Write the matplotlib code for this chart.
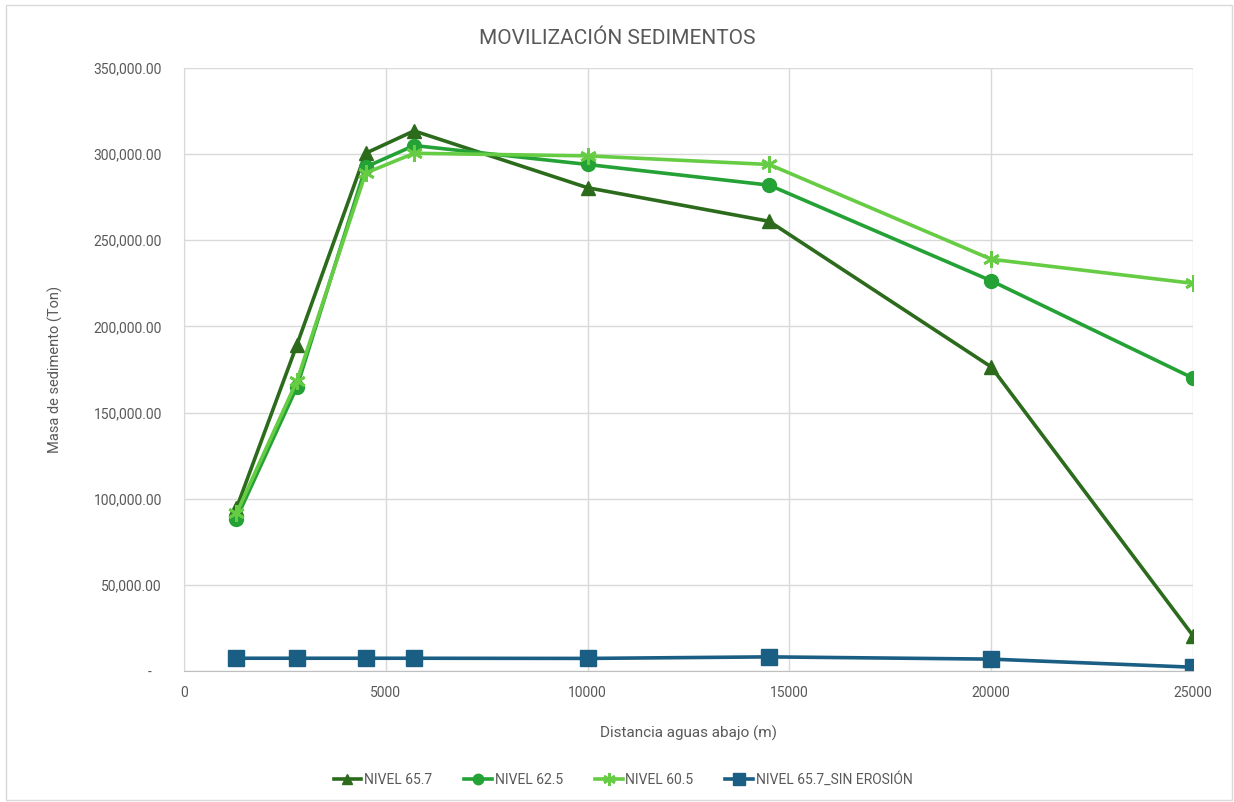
import matplotlib.pyplot as plt
from matplotlib.patches import Rectangle
from matplotlib.ticker import FuncFormatter

plt.rcParams['font.family'] = ['Roboto', 'DejaVu Sans']

# distancia aguas abajo (m)
distancia = [1300, 2800, 4500, 5700, 10000, 14500, 20000, 25000]

# masa de sedimento (Ton)
nivel_657 = [94500, 189500, 300500, 313500, 280500, 261000, 176500, 20500]
nivel_625 = [88500, 165000, 292500, 305000, 294000, 282000, 226500, 170000]
nivel_605 = [91500, 168500, 289000, 300500, 299000, 294000, 239000, 225000]
nivel_657_sin = [7400, 7400, 7400, 7400, 7300, 8200, 6900, 2200]

etiquetas = ['NIVEL 65.7', 'NIVEL 62.5', 'NIVEL 60.5', 'NIVEL 65.7_SIN EROSIÓN']
colores = ['#2c6b1c', '#24a235', '#66cc44', '#1a5e84']

gris = '#595959'

fig = plt.figure(figsize=(12.34, 8.02), dpi=100)
ax = fig.add_axes([184/1234, 1-671/802, (1193-184)/1234, (671-68)/802])

# borde del área del gráfico
fig.patches.append(Rectangle((6/1234, 1-800/802), 1226/1234, 795/802,
                             transform=fig.transFigure, fill=False,
                             edgecolor='#d9d9d9', lw=1))

ax.plot(distancia, nivel_657, color=colores[0], lw=2.6, marker='^', ms=10, label=etiquetas[0])
ax.plot(distancia, nivel_625, color=colores[1], lw=2.6, marker='o', ms=10, label=etiquetas[1])
ax.plot(distancia, nivel_605, color=colores[2], lw=2.6, marker=(6, 2, 0), ms=12, mew=2, label=etiquetas[2])
ax.plot(distancia, nivel_657_sin, color=colores[3], lw=2.6, marker='s', ms=11, label=etiquetas[3])

ax.set_xlim(0, 25000)
ax.set_ylim(0, 350000)
ax.set_xticks(range(0, 25001, 5000))
ax.set_yticks(range(0, 350001, 50000))
ax.yaxis.set_major_formatter(FuncFormatter(lambda v, p: '-   ' if v == 0 else f'{v:,.2f}'))

ax.grid(True, color='#d9d9d9', lw=1)
ax.set_axisbelow(True)
for s in ['top', 'right']:
    ax.spines[s].set_visible(False)
ax.spines['left'].set_color('#d9d9d9')
ax.spines['bottom'].set_color('#bfbfbf')
ax.tick_params(axis='both', length=0, colors=gris, labelsize=10)
ax.tick_params(axis='y', pad=16)
ax.tick_params(axis='x', pad=11)

ax.set_xlabel('Distancia aguas abajo (m)', color=gris, fontsize=11, labelpad=18)
ax.set_ylabel('Masa de sedimento (Ton)', color=gris, fontsize=10.5, labelpad=22)
fig.text(0.5, 1-38/802, 'MOVILIZACIÓN SEDIMENTOS', ha='center', va='center',
         color=gris, fontsize=15)

fig.legend(loc='center', bbox_to_anchor=(0.505, 1-780/802), ncol=4, frameon=False,
           fontsize=10, handlelength=2.0, columnspacing=2.3, handletextpad=0.2,
           labelcolor=gris, markerscale=0.75)

fig.savefig('out.png', dpi=100)
